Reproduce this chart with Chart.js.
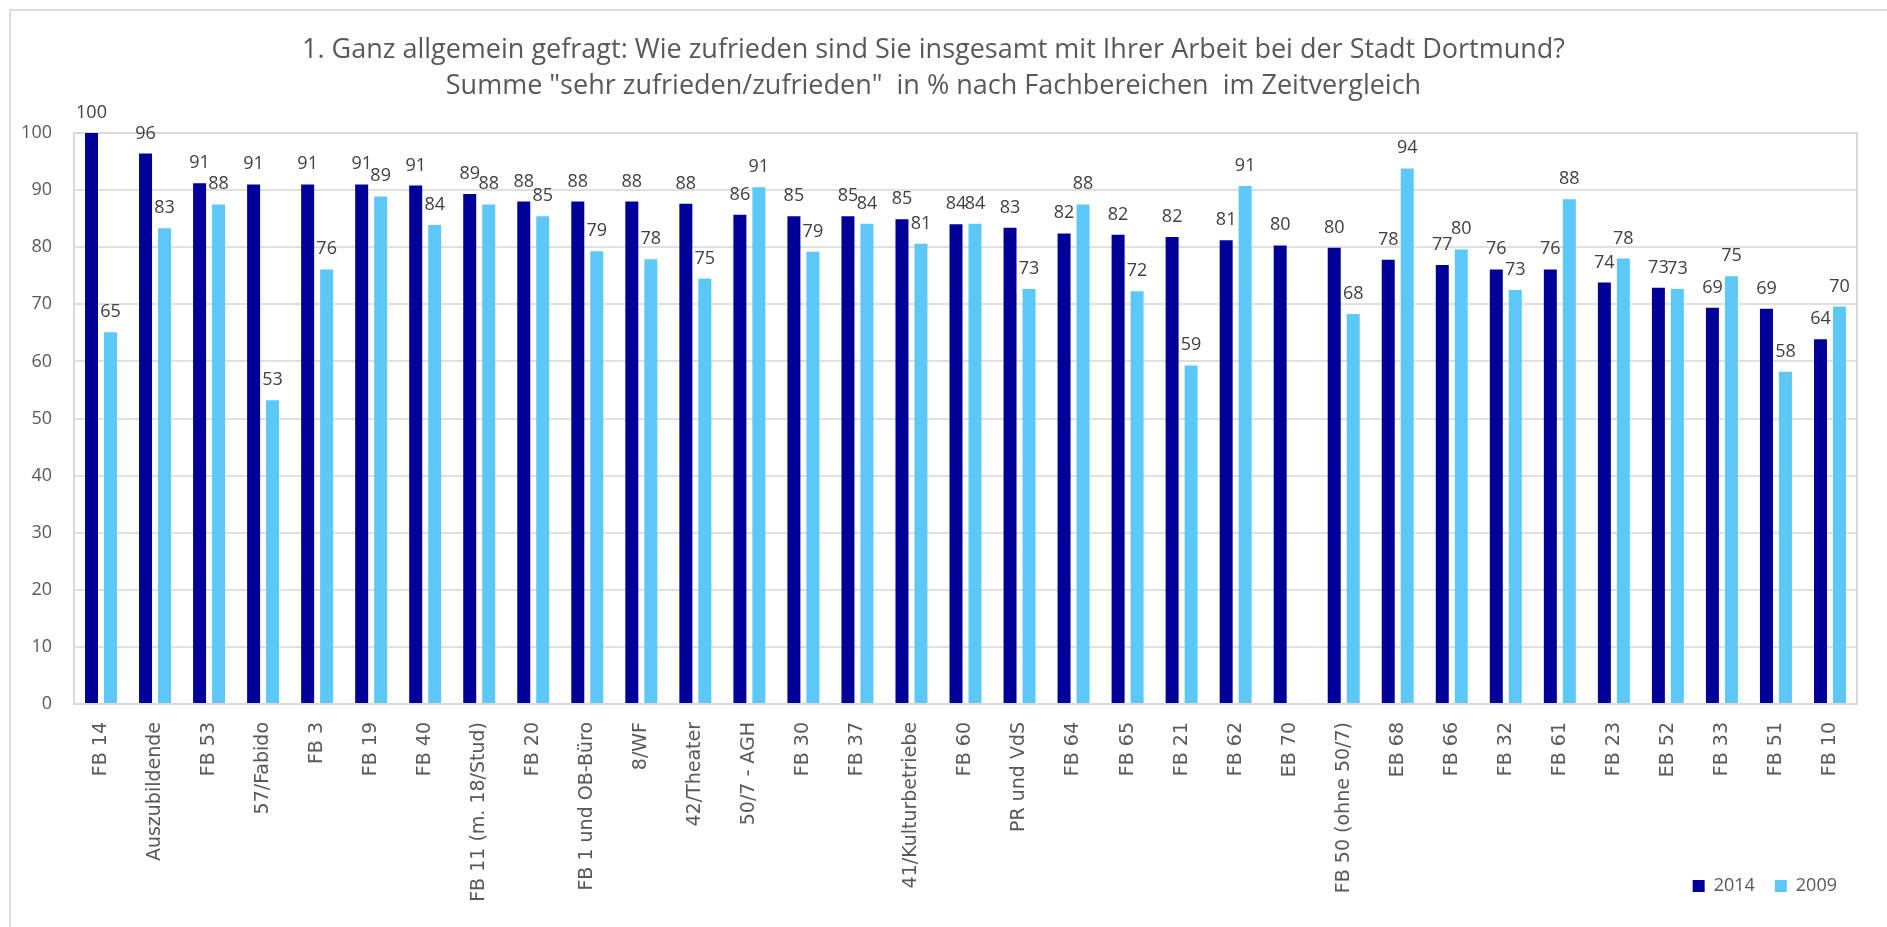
<!DOCTYPE html>
<html>
<head>
<meta charset="utf-8">
<script src="https://cdn.jsdelivr.net/npm/chart.js@4/dist/chart.umd.min.js"></script>
<style>
  html, body { margin: 0; padding: 0; background: #fff; }
  #wrap { position: relative; width: 1887px; height: 927px; overflow: hidden; }
  #frame { position: absolute; left: 9px; top: 9px; width: 1900px; height: 940px;
           border: 2px solid #dcdcdc; pointer-events: none; }
</style>
</head>
<body>
<div id="wrap">
  <canvas id="myChart"></canvas>
  <div id="frame"></div>
</div>
<script>
const labels = ['FB 14', 'Auszubildende', 'FB 53', '57/Fabido', 'FB 3', 'FB 19', 'FB 40',
  'FB 11 (m. 18/Stud)', 'FB 20', 'FB 1 und OB-Büro', '8/WF', '42/Theater', '50/7 - AGH',
  'FB 30', 'FB 37', '41/Kulturbetriebe', 'FB 60', 'PR und VdS', 'FB 64', 'FB 65', 'FB 21',
  'FB 62', 'EB 70', 'FB 50 (ohne 50/7)', 'EB 68', 'FB 66', 'FB 32', 'FB 61', 'FB 23',
  'EB 52', 'FB 33', 'FB 51', 'FB 10'];
const values2014 = [100, 96.4, 91.2, 91, 91, 91, 90.8, 89.3, 88, 88, 88, 87.6, 85.7,
  85.4, 85.4, 84.9, 84, 83.4, 82.4, 82.2, 81.8, 81.2, 80.3, 79.9, 77.8, 76.9, 76.1,
  76.1, 73.8, 72.9, 69.4, 69.2, 63.9];
const values2009 = [65.1, 83.3, 87.5, 53.2, 76.1, 88.9, 83.9, 87.5, 85.4, 79.3, 77.9,
  74.5, 90.5, 79.2, 84.1, 80.6, 84.1, 72.7, 87.5, 72.3, 59.3, 90.7, null, 68.3, 93.8,
  79.6, 72.5, 88.4, 78.0, 72.7, 74.9, 58.2, 69.6];
const yTicks = [0, 10, 20, 30, 40, 50, 60, 70, 80, 90, 100];

const textGray = '#595959';

// value labels above the bars
const valueLabels = {
  id: 'valueLabels',
  afterDatasetsDraw(chart) {
    const ctx = chart.ctx;
    ctx.save();
    ctx.font = '18px "Open Sans"';
    ctx.fillStyle = '#404040';
    ctx.textAlign = 'center';
    ctx.textBaseline = 'alphabetic';
    chart.data.datasets.forEach((ds, i) => {
      chart.getDatasetMeta(i).data.forEach((bar, j) => {
        const v = ds.data[j];
        if (v === null || v === undefined) return;
        ctx.fillText(Math.round(v), bar.x, bar.y - 15);
      });
    });
    ctx.restore();
  }
};

// plot area frame
const plotFrame = {
  id: 'plotFrame',
  beforeDatasetsDraw(chart) {
    const a = chart.chartArea;
    const ctx = chart.ctx;
    ctx.save();
    ctx.strokeStyle = '#d9d9d9';
    ctx.lineWidth = 2;
    ctx.strokeRect(a.left, a.top, a.right - a.left, a.bottom - a.top);
    ctx.restore();
  }
};

const config = {
  type: 'bar',
  data: {
    labels: labels,
    datasets: [
      {
        label: '2014',
        data: values2014,
        backgroundColor: '#000099',
        categoryPercentage: 0.703,
        barPercentage: 0.684
      },
      {
        label: '2009',
        data: values2009,
        backgroundColor: '#5cc8f7',
        categoryPercentage: 0.703,
        barPercentage: 0.684
      }
    ]
  },
  options: {
    responsive: true,
    maintainAspectRatio: false,
    animation: false,
    layout: { padding: { left: 10, right: 30, top: 0, bottom: 22 } },
    scales: {
      x: {
        grid: { display: false, drawTicks: false },
        border: { color: '#d9d9d9', width: 2 },
        ticks: {
          autoSkip: false,
          minRotation: 90,
          maxRotation: 90,
          padding: 18,
          color: textGray,
          font: { family: '"DejaVu Sans"', size: 19 }
        },
        afterFit(scale) {
          // long labels run down beside the legend, so keep the box short and don't clip them
          scale.height = 153;
          scale._computeLabelArea = () => undefined;
        }
      },
      y: {
        min: 0,
        max: 100,
        grid: { color: '#e0e0e0', lineWidth: 2, drawTicks: false },
        border: { color: '#d9d9d9', width: 2 },
        afterBuildTicks(scale) { scale.ticks = yTicks.map(v => ({ value: v })); },
        ticks: {
          padding: 22,
          color: textGray,
          font: { family: '"Open Sans"', size: 18 }
        },
        afterFit(scale) { scale.width = 64; }
      }
    },
    plugins: {
      title: {
        display: true,
        text: ['1. Ganz allgemein gefragt: Wie zufrieden sind Sie insgesamt mit Ihrer Arbeit bei der Stadt Dortmund?',
               'Summe "sehr zufrieden/zufrieden"  in % nach Fachbereichen  im Zeitvergleich'],
        color: textGray,
        font: { family: '"Open Sans"', size: 27, weight: 'normal', lineHeight: '36px' },
        padding: { top: 32, bottom: 29 }
      },
      legend: {
        position: 'bottom',
        align: 'end',
        labels: {
          boxWidth: 12,
          boxHeight: 12,
          padding: 20,
          color: textGray,
          font: { family: '"Open Sans"', size: 18 }
        }
      },
      tooltip: { enabled: false }
    }
  },
  plugins: [plotFrame, valueLabels]
};

const myChart = new Chart(document.getElementById('myChart'), config);
</script>
</body>
</html>
